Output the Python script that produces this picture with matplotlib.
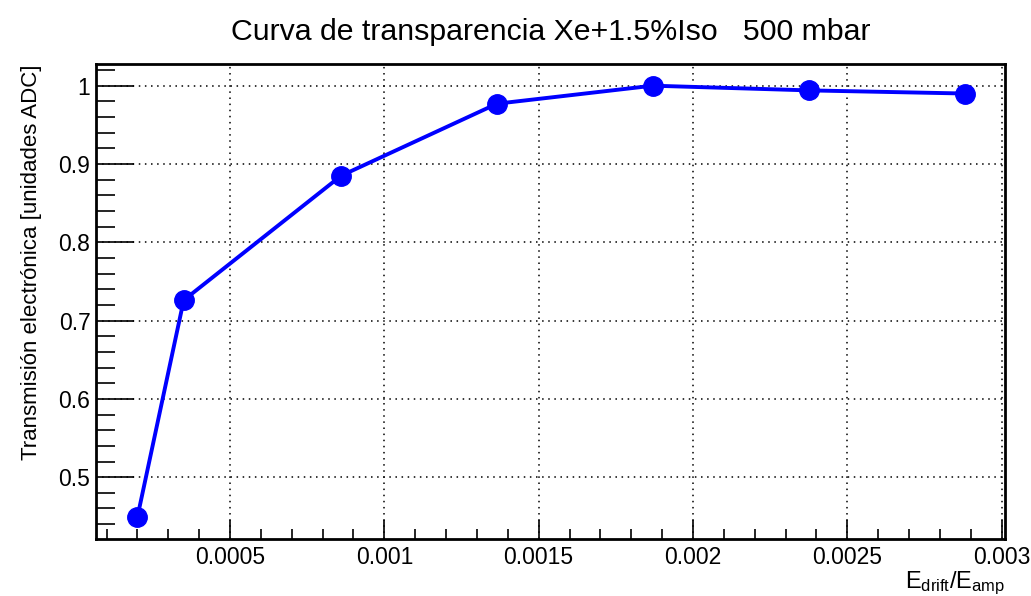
import matplotlib
matplotlib.use("Agg")
import matplotlib.pyplot as plt
from matplotlib.ticker import MultipleLocator

plt.rcParams["font.family"] = ["Liberation Sans", "DejaVu Sans"]
plt.rcParams["mathtext.fontset"] = "custom"
plt.rcParams["mathtext.rm"] = "Liberation Sans"
plt.rcParams["mathtext.it"] = "Liberation Sans"

# campo de deriva / campo de amplificación
e_ratio = [0.0002, 0.00035, 0.00086, 0.001365, 0.00187, 0.002375, 0.00288]
transmision = [0.449, 0.726, 0.885, 0.977, 1.0, 0.994, 0.990]

titulo = "Curva de transparencia Xe+1.5%Iso   500 mbar"
etiqueta_x = r"$\mathregular{E_{drift}/E_{amp}}$"
etiqueta_y = "Transmisión electrónica [unidades ADC]"

fig = plt.figure(figsize=(10.31, 5.96), dpi=100)
ax = fig.add_axes([0.0931, 0.0956, 0.9748 - 0.0931, 0.8921 - 0.0956])

ax.plot(e_ratio, transmision, color="#0000ff", linewidth=2.8,
        marker="o", markersize=14, zorder=3)

ax.set_xlim(0.0000658, 0.003011)
ax.set_ylim(0.421, 1.0273)

ax.xaxis.set_major_locator(MultipleLocator(0.0005))
ax.xaxis.set_minor_locator(MultipleLocator(0.0001))
ax.yaxis.set_major_locator(MultipleLocator(0.1))
ax.yaxis.set_minor_locator(MultipleLocator(0.02))
ax.xaxis.set_major_formatter(plt.FuncFormatter(lambda v, p: f"{v:g}"))
ax.yaxis.set_major_formatter(plt.FuncFormatter(lambda v, p: f"{v:g}"))

ax.tick_params(axis="both", which="both", direction="in", labelsize=16.5,
               width=1.2, top=False, right=False)
ax.tick_params(axis="x", which="major", length=14, pad=5)
ax.tick_params(axis="x", which="minor", length=7)
ax.tick_params(axis="y", which="major", length=27, pad=4)
ax.tick_params(axis="y", which="minor", length=14)

ax.grid(True, which="major", color="black", linestyle=(0, (1, 3)), linewidth=1.1)

for lado in ax.spines.values():
    lado.set_linewidth(2.0)

ax.set_xlabel(etiqueta_x, fontsize=17, loc="right", labelpad=0.5)
ax.set_ylabel(etiqueta_y, fontsize=16, loc="top", labelpad=12)

fig.text(0.534, 1 - 40 / 596, titulo, ha="center", va="baseline", fontsize=21.8)

fig.savefig("out.png", dpi=100)
plt.close(fig)
